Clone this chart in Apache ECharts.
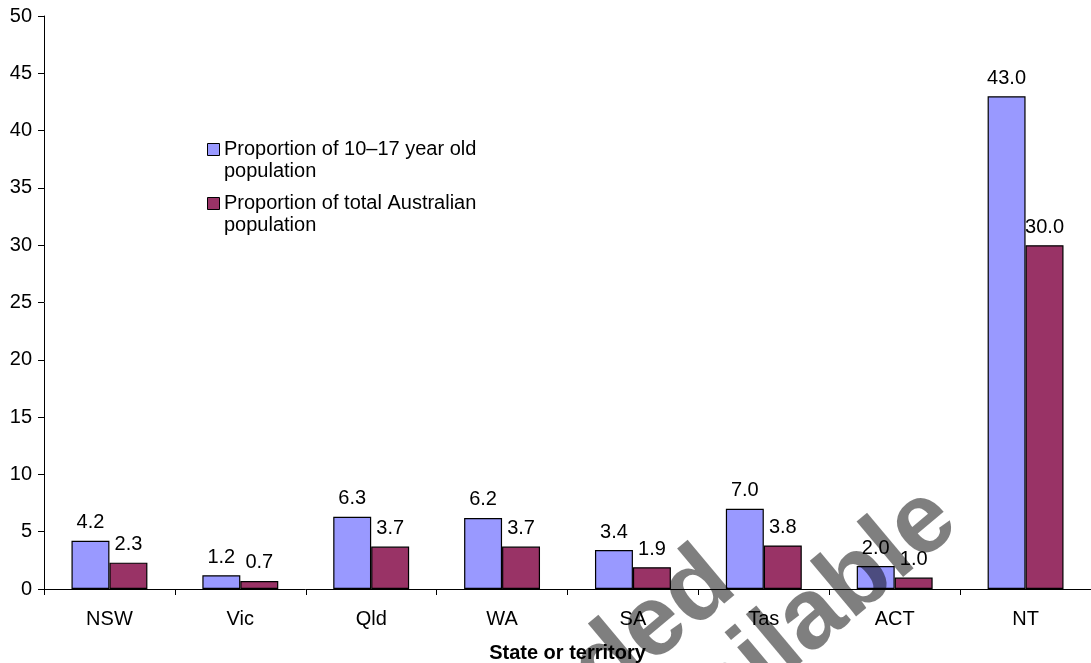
<!DOCTYPE html>
<html>
<head>
<meta charset="utf-8">
<script src="https://cdn.jsdelivr.net/npm/echarts@6/dist/echarts.min.js"></script>
<style>
  html, body { margin: 0; padding: 0; background: #fff; }
  #chart { width: 1091px; height: 663px; }
</style>
</head>
<body>
<div id="chart"></div>
<script>
// States and territories along the category axis
const categories = ['NSW', 'Vic', 'Qld', 'WA', 'SA', 'Tas', 'ACT', 'NT'];

// Series names (legend lines are split where the text wraps)
const seriesNames = [
  'Proportion of 10\u201317 year old population',
  'Proportion of total Australian population'
];
const legendLines = [
  ['Proportion of 10\u201317 year old', 'population'],
  ['Proportion of total Australian', 'population']
];

// Per cent values for each state / territory
const youthShare = [4.2, 1.2, 6.3, 6.2, 3.4, 7.0, 2.0, 43.0];
const totalShare = [2.3, 0.7, 3.7, 3.7, 1.9, 3.8, 1.0, 30.0];

// Value axis range
const yMin = 0, yMax = 50, yStep = 5;

const axisTitle = 'State or territory';
const stampLines = ['Excluded', 'Not available'];

const FONT = 'Arial, "Liberation Sans", sans-serif';
const FS = 20;
const colors = ['#9999FF', '#993366'];

const chart = echarts.init(document.getElementById('chart'), null, { renderer: 'canvas' });

function legendGraphic() {
  const items = [];
  const tops = [143, 197];
  legendLines.forEach((lines, i) => {
    items.push({
      type: 'rect',
      shape: { x: 207.5, y: tops[i] + 0.5, width: 12, height: 12 },
      style: { fill: colors[i], stroke: '#000', lineWidth: 1 }
    });
    items.push({
      type: 'text',
      x: 224, y: tops[i] - 5,
      style: {
        text: lines.join('\n'),
        font: FS + 'px ' + FONT,
        fill: '#000',
        lineHeight: 22
      }
    });
  });
  return items;
}

function stampGraphic() {
  const rot = 40 * Math.PI / 180;
  const style = {
    font: 'bold 100px ' + FONT,
    fill: 'rgba(0,0,0,0.5)',
    align: 'right',
    verticalAlign: 'bottom'
  };
  return [
    { type: 'text', x: 754, y: 608, rotation: rot, z: 100,
      style: Object.assign({ text: stampLines[0] }, style) },
    { type: 'text', x: 976, y: 545, rotation: rot, z: 100,
      style: Object.assign({ text: stampLines[1] }, style) }
  ];
}

const labelCfg = {
  show: true,
  position: 'top',
  distance: 8,
  color: '#000',
  fontSize: FS,
  fontFamily: FONT,
  formatter: p => p.value.toFixed(1)
};

chart.setOption({
  animation: false,
  backgroundColor: '#fff',
  grid: { left: 44, right: 0, top: 16, bottom: 74, containLabel: false, outerBoundsMode: 'none' },
  xAxis: {
    type: 'category',
    data: categories,
    name: axisTitle,
    nameLocation: 'middle',
    nameGap: 54,
    nameTextStyle: { fontSize: FS, fontWeight: 'bold', color: '#000', fontFamily: FONT },
    axisLine: { lineStyle: { color: '#000', width: 1 } },
    axisTick: { show: true, length: 6, lineStyle: { color: '#000' } },
    axisLabel: { color: '#000', fontSize: FS, fontFamily: FONT, margin: 20 },
    splitLine: { show: false }
  },
  yAxis: {
    type: 'value',
    min: yMin, max: yMax, interval: yStep,
    axisLine: { show: true, lineStyle: { color: '#000', width: 1 } },
    axisTick: { show: true, length: 6, lineStyle: { color: '#000' } },
    axisLabel: { color: '#000', fontSize: FS, fontFamily: FONT, margin: 12 },
    splitLine: { show: false }
  },
  series: [
    {
      name: seriesNames[0], type: 'bar', data: youthShare,
      barGap: '0%', barCategoryGap: '42%',
      itemStyle: { color: colors[0], borderColor: '#000', borderWidth: 1.2 },
      label: labelCfg
    },
    {
      name: seriesNames[1], type: 'bar', data: totalShare,
      barGap: '0%', barCategoryGap: '42%',
      itemStyle: { color: colors[1], borderColor: '#000', borderWidth: 1.2 },
      label: labelCfg
    }
  ],
  graphic: legendGraphic().concat(stampGraphic())
});
</script>
</body>
</html>
